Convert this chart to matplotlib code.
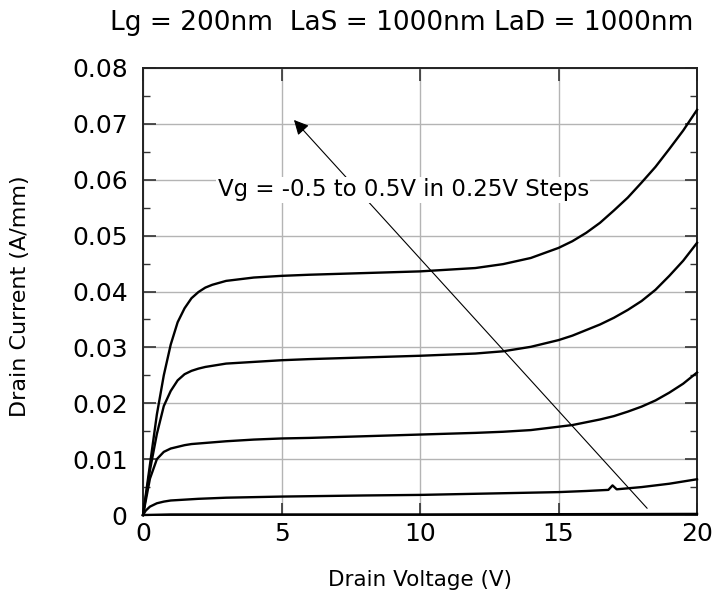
import matplotlib.pyplot as plt
from matplotlib.ticker import MultipleLocator

plt.rcParams['font.family'] = ['DejaVu Sans']

# ========== data ==========
v_hi = [0, 0.25, 0.5, 0.75, 1, 1.25, 1.5, 1.75, 2, 2.25, 2.5, 3, 4, 5, 6, 8, 10, 12, 13, 14, 15, 15.5,
        16, 16.5, 17, 17.5, 18, 18.5, 19, 19.5, 20]
id_vg_p050 = [0, 0.009, 0.018, 0.025, 0.0305, 0.0345, 0.037, 0.0388, 0.0399, 0.0407, 0.0412, 0.0419, 0.0425, 0.0428,
              0.0430, 0.0433, 0.0436, 0.0442, 0.0449, 0.0460, 0.0478, 0.0490, 0.0505, 0.0523, 0.0545, 0.0568,
              0.0595, 0.0623, 0.0655, 0.0688, 0.0725]
id_vg_p025 = [0, 0.008, 0.0145, 0.0195, 0.0222, 0.0241, 0.0252, 0.0258, 0.0262, 0.0265, 0.0267, 0.0271, 0.0274,
              0.0277, 0.0279, 0.0282, 0.0285, 0.0289, 0.0293, 0.0301, 0.0313, 0.0321, 0.0331, 0.0341, 0.0353,
              0.0367, 0.0383, 0.0403, 0.0428, 0.0455, 0.0487]
id_vg_0 = [0, 0.0065, 0.0100, 0.0113, 0.0119, 0.0122, 0.0125, 0.0127, 0.0128, 0.0129, 0.0130, 0.0132, 0.0135, 0.0137,
           0.0138, 0.0141, 0.0144, 0.0147, 0.0149, 0.0152, 0.0158, 0.0161, 0.0166, 0.0171, 0.0177, 0.0185,
           0.0194, 0.0205, 0.0219, 0.0235, 0.0255]

v_lo = [0, 0.1, 0.25, 0.5, 0.75, 1, 2, 3, 5, 8, 10, 12, 14, 15, 16, 16.8, 16.95, 17.1, 18, 19, 20]
id_vg_m025 = [0, 0.0008, 0.0015, 0.0021, 0.0024, 0.0026, 0.0029, 0.0031, 0.0033, 0.0035, 0.0036, 0.0038, 0.0040,
              0.0041, 0.0043, 0.0045, 0.0053, 0.0046, 0.0050, 0.0056, 0.0064]

v_off = [0, 1, 10, 20]
id_vg_m050 = [0, 0.0001, 0.0001, 0.0002]

curves = [(v_hi, id_vg_p050), (v_hi, id_vg_p025), (v_hi, id_vg_0), (v_lo, id_vg_m025), (v_off, id_vg_m050)]

# ========== plot ==========
fig = plt.figure(figsize=(7.14, 5.99), dpi=100, facecolor='white')
ax = fig.add_axes([0.2003, 0.1402, 0.7759, 0.7463])

for vd, idd in curves:
    ax.plot(vd, idd, color='black', lw=1.7, clip_on=False, zorder=3, solid_joinstyle='round')

ax.set_xlim(0, 20)
ax.set_ylim(0, 0.08)
ax.xaxis.set_major_locator(MultipleLocator(5))
ax.yaxis.set_major_locator(MultipleLocator(0.01))
ax.yaxis.set_minor_locator(MultipleLocator(0.005))
ax.yaxis.set_major_formatter(plt.FuncFormatter(lambda v, p: '0' if abs(v) < 1e-9 else f'{v:.2f}'))

ax.grid(True, which='major', color='#b4b4b4', lw=1.0, zorder=0)
ax.tick_params(which='both', direction='in', top=True, right=True, labelsize=18, color='#333333')
ax.tick_params(which='major', length=9, width=1.2)
ax.tick_params(which='minor', length=5, width=1.0)
ax.tick_params(axis='x', pad=5)
ax.tick_params(axis='y', pad=11)
for s in ax.spines.values():
    s.set_linewidth(1.4)
    s.set_color('#222222')

ax.set_xlabel('Drain Voltage (V)', fontsize=15.5)
ax.set_ylabel('Drain Current (A/mm)', fontsize=16)
ax.xaxis.set_label_coords(0.5, -0.145)
ax.xaxis.label.set_va('center')
ax.yaxis.set_label_coords(-0.222, 0.49)
ax.yaxis.label.set_va('center')

ax.annotate('', xy=(5.45, 0.0707), xytext=(18.2, 0.0012),
            arrowprops=dict(arrowstyle='-|>', color='black', lw=0.8, mutation_scale=22,
                            shrinkA=0, shrinkB=0), zorder=4)
ax.text(9.4, 0.0582, 'Vg = -0.5 to 0.5V in 0.25V Steps', ha='center', va='center', fontsize=16.5,
        bbox=dict(facecolor='white', edgecolor='none', pad=1), zorder=5)

fig.text(0.563, 0.962, 'Lg = 200nm  LaS = 1000nm LaD = 1000nm', ha='center', va='center', fontsize=19)

fig.savefig('out.png', dpi=100, facecolor='white')
